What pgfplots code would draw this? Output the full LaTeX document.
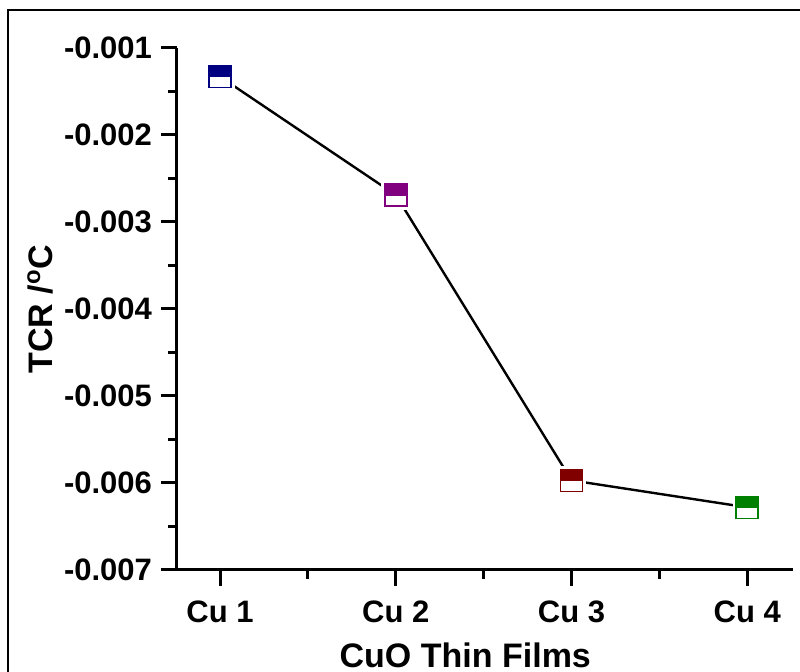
\documentclass[border=0pt]{standalone}
\usepackage{pgfplots}
\pgfplotsset{compat=1.18}
\usepackage{fontspec}
\setmainfont{Liberation Sans}

\definecolor{cuA}{RGB}{0,0,128}
\definecolor{cuB}{RGB}{128,0,128}
\definecolor{cuC}{RGB}{128,0,0}
\definecolor{cuD}{RGB}{0,128,0}

% square mark: upper half filled with fill colour, lower half white
\pgfdeclareplotmark{halftop}{%
  \pgfpathrectangle{\pgfqpoint{-\pgfplotmarksize}{0pt}}{\pgfqpoint{2\pgfplotmarksize}{\pgfplotmarksize}}%
  \pgfusepathqfillstroke
  \pgfsetfillcolor{white}%
  \pgfpathrectangle{\pgfqpoint{-\pgfplotmarksize}{-\pgfplotmarksize}}{\pgfqpoint{2\pgfplotmarksize}{\pgfplotmarksize}}%
  \pgfusepathqfillstroke
}

\pgfplotstableread{
x   y         c
1   -0.00133  a
2   -0.00269  b
3   -0.00597  c
4   -0.00628  d
}\tcrdata

\begin{document}
\begin{tikzpicture}
  % 1px = 0.5pt, page 800x672 px
  \useasboundingbox (0,0) rectangle (400pt,336pt);
  \begin{axis}[
    at={(88.5pt,51pt)}, anchor=south west,
    scale only axis, width=308pt, height=261pt,
    xmin=0.755, xmax=4.26, ymin=-0.007, ymax=-0.001,
    axis x line*=bottom, axis y line*=left,
    axis line style={line width=1.5pt, -},
    xtick={1,2,3,4}, xticklabels={Cu 1,Cu 2,Cu 3,Cu 4},
    minor xtick={1.5,2.5,3.5},
    ytick={-0.007,-0.006,-0.005,-0.004,-0.003,-0.002,-0.001},
    minor ytick={-0.0065,-0.0055,-0.0045,-0.0035,-0.0025,-0.0015},
    tick align=outside,
    major tick length=8pt, minor tick length=4.5pt,
    every tick/.style={black, line width=1.5pt},
    scaled y ticks=false,
    /pgf/number format/assume math mode=true,
    tick label style={font=\bfseries\fontsize{15.5}{15.5}\selectfont},
    xticklabel style={yshift=-4pt},
    yticklabel style={xshift=-1pt, /pgf/number format/.cd, fixed, fixed zerofill, precision=3},
    xlabel={CuO Thin Films},
    ylabel={TCR /\textsuperscript{o}C},
    label style={font=\bfseries\fontsize{17}{17}\selectfont},
    xlabel style={at={(axis description cs:0.468,-0.163)}, anchor=center},
    ylabel style={at={(axis description cs:-0.222,0.5)}, anchor=center, rotate=0},
    clip=false,
  ]
    % connecting line
    \addplot[black, line width=1.2pt, mark=none] table[x=x, y=y] {\tcrdata};
    % white gap round each marker
    \addplot[only marks, mark=square*, mark size=7pt, draw=white, fill=white]
      table[x=x, y=y] {\tcrdata};
    % markers
    \addplot[only marks, scatter, scatter src=explicit symbolic,
      mark size=5.5pt,
      scatter/classes={
        a={mark=halftop, draw=cuA, fill=cuA, line width=0.8pt},
        b={mark=halftop, draw=cuB, fill=cuB, line width=0.8pt},
        c={mark=halftop, draw=cuC, fill=cuC, line width=0.8pt},
        d={mark=halftop, draw=cuD, fill=cuD, line width=0.8pt}}]
      table[x=x, y=y, meta=c] {\tcrdata};
  \end{axis}
  \draw[line width=1pt] (4pt,-20pt) -- (4pt,331pt) -- (420pt,331pt);
\end{tikzpicture}
\end{document}
